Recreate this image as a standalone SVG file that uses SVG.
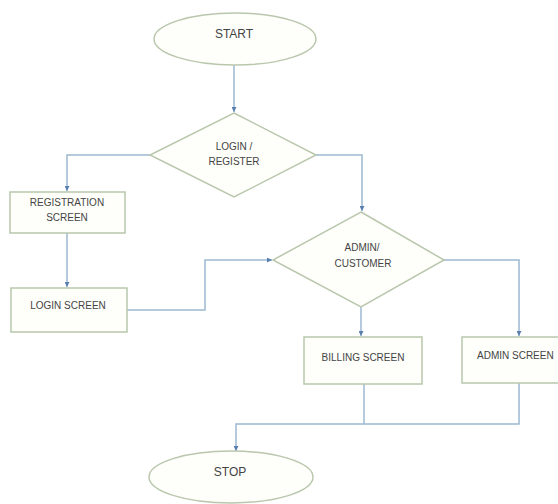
<svg xmlns="http://www.w3.org/2000/svg" width="558" height="504" viewBox="0 0 558 504">
<defs>
<style>
.shape{fill:#fefefa;stroke:#b9c7ad;stroke-width:1.5}
.conn{fill:none;stroke:#9db8d2;stroke-width:1.5}
.lbl{font-family:"Liberation Sans",Arial,sans-serif;font-size:10px;fill:#444444;text-anchor:middle}
.big{font-size:12px}
</style>
<marker id="arr" viewBox="0 0 6 6" refX="6" refY="3" markerWidth="5" markerHeight="5" orient="auto" markerUnits="userSpaceOnUse">
<path d="M0,0 L6,3 L0,6 z" fill="#5a7fae"/>
</marker>
</defs>
<rect width="558" height="504" fill="#ffffff"/>
<g id="connectors">
<path class="conn" d="M234,65 V112" marker-end="url(#arr)"/>
<path class="conn" d="M150,155 H67 V191" marker-end="url(#arr)"/>
<path class="conn" d="M67,233 V287" marker-end="url(#arr)"/>
<path class="conn" d="M127,310 H205 V260 H272" marker-end="url(#arr)"/>
<path class="conn" d="M316,155 H362 V211" marker-end="url(#arr)"/>
<path class="conn" d="M361,307 V336" marker-end="url(#arr)"/>
<path class="conn" d="M444,260 H519 V336" marker-end="url(#arr)"/>
<path class="conn" d="M364,384 V424"/>
<path class="conn" d="M519,383 V424 H236 V451" marker-end="url(#arr)"/>
</g>
<g id="start">
<ellipse class="shape" cx="235" cy="39" rx="81" ry="26"/>
<text class="lbl big" x="234" y="38">START</text>
</g>
<g id="login-register">
<polygon class="shape" points="234,113 316,155 234,197 150,155"/>
<text class="lbl" x="234" y="150">LOGIN /</text>
<text class="lbl" x="234" y="165">REGISTER</text>
</g>
<g id="registration-screen">
<rect class="shape" x="10" y="192" width="115" height="41"/>
<text class="lbl" x="67" y="206">REGISTRATION</text>
<text class="lbl" x="67" y="221">SCREEN</text>
</g>
<g id="login-screen">
<rect class="shape" x="11" y="288" width="116" height="44"/>
<text class="lbl" x="68" y="309">LOGIN SCREEN</text>
</g>
<g id="admin-customer">
<polygon class="shape" points="361,212 444,260 361,307 273,260"/>
<text class="lbl" x="362" y="251">ADMIN/</text>
<text class="lbl" x="363" y="267">CUSTOMER</text>
</g>
<g id="billing-screen">
<rect class="shape" x="304" y="337" width="118" height="47"/>
<text class="lbl" x="363" y="361">BILLING SCREEN</text>
</g>
<g id="admin-screen">
<rect class="shape" x="462" y="337" width="112" height="46"/>
<text class="lbl" x="477" y="359" style="text-anchor:start">ADMIN SCREEN</text>
</g>
<g id="stop">
<ellipse class="shape" cx="231" cy="477" rx="82" ry="26"/>
<text class="lbl big" x="230" y="476">STOP</text>
</g>
</svg>
